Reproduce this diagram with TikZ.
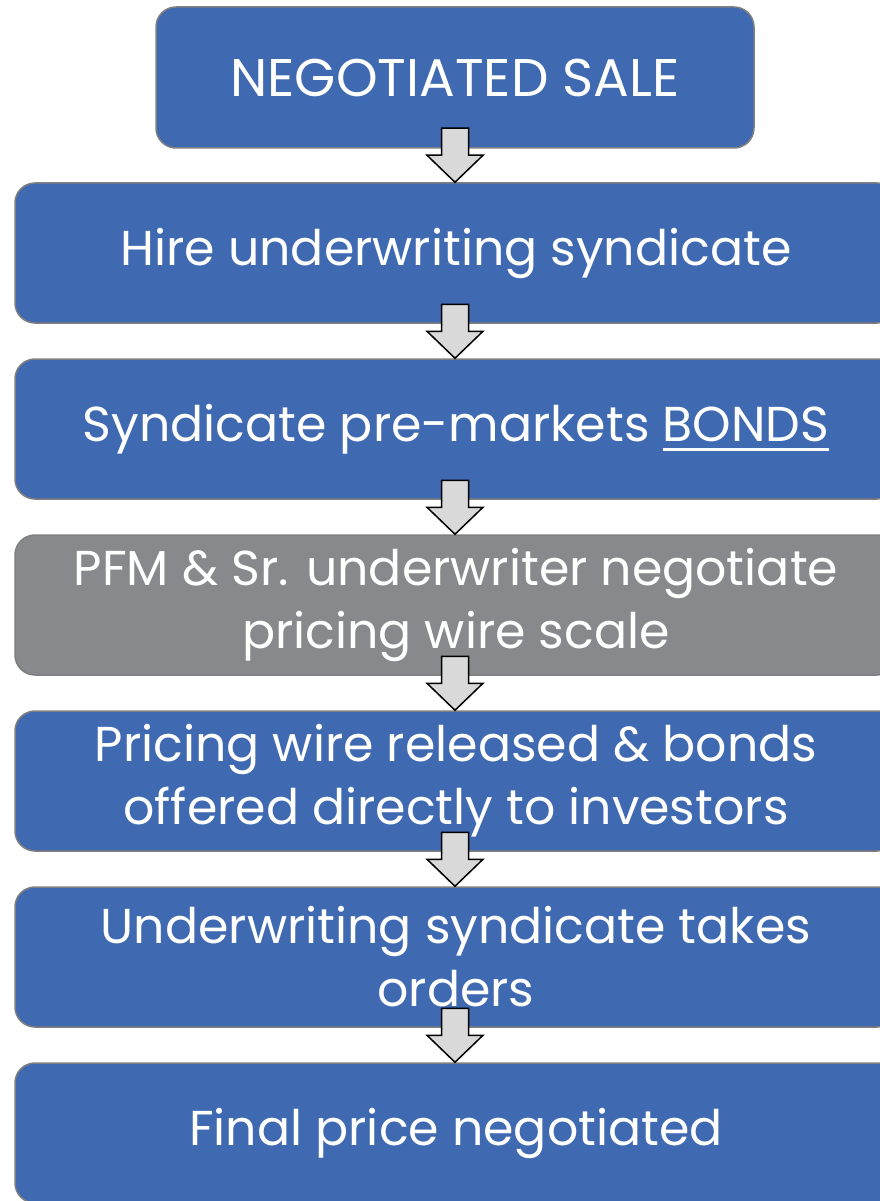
\documentclass[tikz,border=0pt]{standalone}
\usepackage{fontspec}
\setmainfont{Poppins}
\usetikzlibrary{calc}

\definecolor{boxblue}{HTML}{3F69B1}
\definecolor{boxgray}{HTML}{88898D}
\definecolor{boxline}{HTML}{7F7F7F}
\definecolor{arrowfill}{HTML}{D9D9D9}

\newcommand{\bondsul}[1]{\vtop{\hbox{#1}\kern6pt\hrule height 3pt}}

\tikzset{
  stepbox/.style={draw=boxline, line width=1.5pt, fill=boxblue, rounded corners=20pt,
    text=white, align=center, minimum width=882pt, minimum height=140pt, inner sep=0pt,
    font=\fontsize{49}{63}\selectfont},
  graybox/.style={stepbox, fill=boxgray},
  downarrow/.style={draw=black, line width=1.5pt, fill=arrowfill, line join=miter}
}

\begin{document}
\begin{tikzpicture}[x=1pt,y=-1pt]
	\useasboundingbox (0,0) rectangle (879,1201);

	\node[stepbox, minimum width=598pt, minimum height=141pt, font=\fontsize{53}{63}\selectfont] (sale) at (455,77.5) {NEGOTIATED SALE};
	\node[stepbox] (hire) at (456,253) {Hire underwriting syndicate};
	\node[stepbox] (premkt) at (456,429) {Syndicate pre-markets \bondsul{BONDS}};
	\node[graybox] (negot) at (456,605) {PFM \& Sr. underwriter negotiate\\pricing wire scale};
	\node[stepbox] (wire) at (456,781) {Pricing wire released \& bonds\\offered directly to investors};
	\node[stepbox] (orders) at (456,957) {Underwriting syndicate takes\\orders};
	\node[stepbox] (final) at (456,1133) {Final price negotiated};

	% block arrows, tip on the top of the next box
	\foreach \b in {hire,premkt,negot,wire,orders,final} {
	     \draw[downarrow] ($(\b.north)+(-1,0)$) -- ++(28,-27) -- ++(-14.5,0) -- ++(0,-27)
	        -- ++(-27,0) -- ++(0,27) -- ++(-14.5,0) -- cycle;
	}
\end{tikzpicture}
\end{document}
